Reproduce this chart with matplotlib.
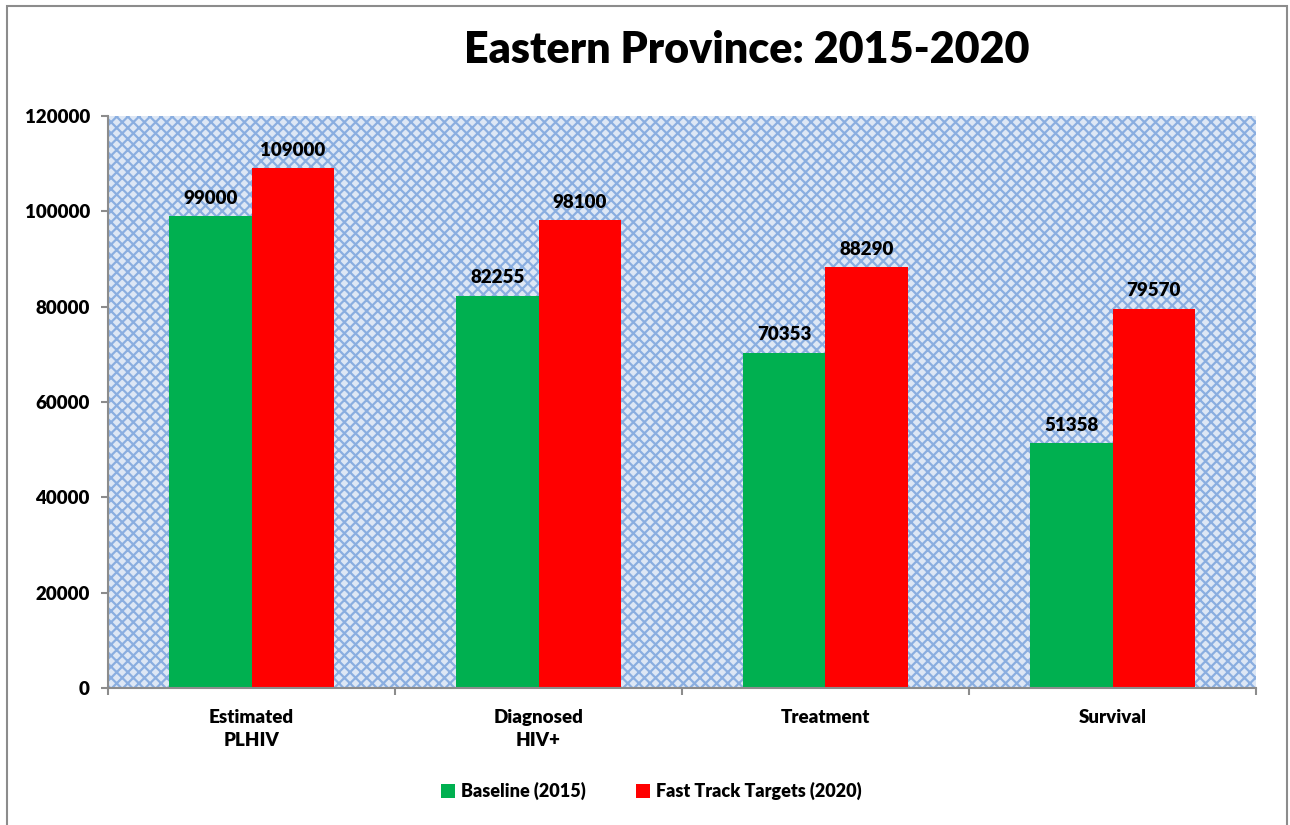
import matplotlib
matplotlib.use("Agg")
import matplotlib.pyplot as plt
from matplotlib.patches import Rectangle

categories = ["Estimated\nPLHIV", "Diagnosed\nHIV+", "Treatment", "Survival"]
baseline = [99000, 82255, 70353, 51358]
targets = [109000, 98100, 88290, 79570]
series_names = ["Baseline (2015)", "Fast Track Targets (2020)"]

plt.rcParams['font.family'] = ['Lato', 'DejaVu Sans']
plt.rcParams['font.weight'] = 'bold'
plt.rcParams['hatch.linewidth'] = 1.6
plt.rcParams['hatch.color'] = '#8aaee0'

fig = plt.figure(figsize=(12.9, 8.25), dpi=100)
fig.patches.append(Rectangle((7/1290, -0.01), 1280/1290, 1.01 - 6/825,
                             transform=fig.transFigure, fill=False,
                             edgecolor='#8c8c8c', linewidth=1.5))
ax = fig.add_axes([108/1290, 1 - 688/825, 1148/1290, 572/825])

# patterned background
ax.set_facecolor('#dde7f5')
ax.add_patch(Rectangle((0, 0), 1, 1, transform=ax.transAxes, facecolor='none',
                       hatch='xxx', edgecolor='#8aaee0', linewidth=0, zorder=0))

w = 0.286
x = range(len(categories))
b1 = ax.bar([i - w/2 for i in x], baseline, w, color='#00b050', label=series_names[0], zorder=2)
b2 = ax.bar([i + w/2 for i in x], targets, w, color='#ff0000', label=series_names[1], zorder=2)

for bars, vals in ((b1, baseline), (b2, targets)):
    for bar, v in zip(bars, vals):
        ax.text(bar.get_x() + bar.get_width()/2, v + 2000, str(v), ha='center', va='bottom',
                fontsize=13.5, fontweight='heavy')

ax.set_xlim(-0.5, 3.5)
ax.set_ylim(0, 120000)
ax.set_yticks(range(0, 120001, 20000))
ax.set_xticks([-0.5, 0.5, 1.5, 2.5, 3.5])
ax.set_xticklabels([])
ax.set_xticks(list(x), minor=True)
ax.set_xticklabels(categories, minor=True, fontsize=13.5, fontweight='heavy', linespacing=1.45)
ax.tick_params(axis='x', which='minor', length=0, pad=15)
ax.tick_params(axis='both', which='major', length=5, color='#8c8c8c', width=1.5)
ax.tick_params(axis='y', labelsize=13.5, pad=8)
for t in ax.get_yticklabels():
    t.set_fontweight('heavy')

for s in ('top', 'right'):
    ax.spines[s].set_visible(False)
for s in ('left', 'bottom'):
    ax.spines[s].set_color('#8c8c8c')
    ax.spines[s].set_linewidth(1.5)

fig.text(747/1290, 1 - 50/825, "Eastern Province: 2015-2020", ha='center', va='center',
         fontsize=31, fontweight='heavy')

fig.legend(loc='center', bbox_to_anchor=(651/1290, 1 - 791/825), ncol=2, frameon=False,
           handlelength=0.8, handleheight=0.8, handletextpad=0.3,
           columnspacing=2.8, prop={'weight': 'heavy', 'size': 13})

fig.savefig("out.png", dpi=100)
plt.close(fig)
